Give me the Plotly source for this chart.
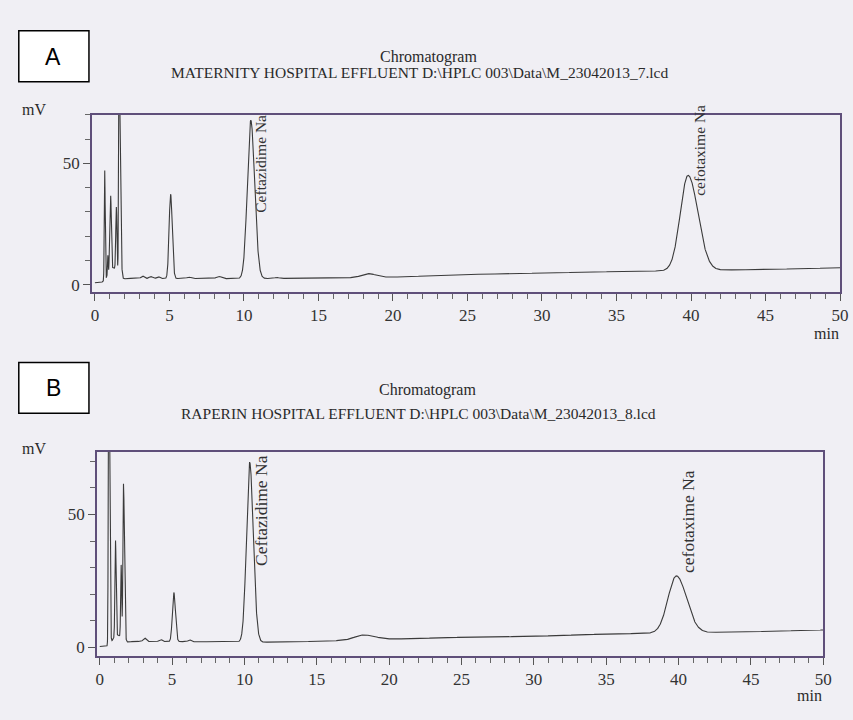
import numpy as np
import plotly.graph_objects as go

# ---------------- data ----------------
# Panel A (Maternity hospital effluent) peak table: retention time (min), height above baseline (mV), left/right width (min)
a_peak_time   = [0.66, 0.87, 0.97, 1.06, 1.20, 1.44, 1.62, 3.20, 3.75, 4.25, 5.08, 6.30, 8.30, 10.46, 12.2, 18.35, 39.80]
a_peak_height = [45.0, 8.0,  7.0,  30.4, 5.5,  26.3, 90.0, 1.0,  0.8,  0.8,  34.7, 0.6,  0.9,  65.2,  0.4,  1.6,   39.2]
a_sigma_left  = [0.03, 0.025,0.02, 0.04, 0.30, 0.04, 0.03, 0.10, 0.10, 0.10, 0.10, 0.12, 0.15, 0.23,  0.15, 0.45,  0.52]
a_sigma_right = [0.03, 0.025,0.02, 0.04, 0.30, 0.04, 0.08, 0.10, 0.10, 0.10, 0.11, 0.12, 0.15, 0.26,  0.15, 0.50,  0.66]
a_base_time   = [0.0, 0.55, 2.3, 10.0, 15.0, 20.0, 25.0, 35.0, 45.0, 50.0]
a_base_mv     = [0.8, 0.8,  2.6, 2.5,  2.7,  3.1,  4.2,  5.45, 6.3,  7.0]

# Panel B (Raperin hospital effluent)
b_peak_time   = [0.62, 1.09, 1.20, 1.48, 1.64, 3.10, 4.20, 5.12, 6.20, 10.36, 18.20, 39.85]
b_peak_height = [120., 36.0, 3.5,  27.4, 58.9, 1.3,  0.8,  18.5, 0.7,  67.7,  1.9,   21.5]
b_sigma_left  = [0.03, 0.04, 0.30, 0.035,0.04, 0.10, 0.10, 0.10, 0.10, 0.22,  0.60,  0.58]
b_sigma_right = [0.06, 0.04, 0.30, 0.035,0.065,0.10, 0.10, 0.11, 0.10, 0.25,  0.80,  0.70]
b_base_time   = [0.0, 0.5, 2.3, 12.0, 15.0, 25.0, 30.0, 35.0, 45.0, 50.0]
b_base_mv     = [0.3, 0.3, 2.2, 1.9,  2.25, 3.75, 4.1,  5.0,  5.8,  6.5]

x_ticks = [0, 5, 10, 15, 20, 25, 30, 35, 40, 45, 50]
y_ticks = [0, 50]
peak_labels = ["Ceftazidime Na", "cefotaxime Na"]
titles_a = ["Chromatogram", "MATERNITY HOSPITAL EFFLUENT D:\\HPLC 003\\Data\\M_23042013_7.lcd"]
titles_b = ["Chromatogram", "RAPERIN HOSPITAL EFFLUENT D:\\HPLC 003\\Data\\M_23042013_8.lcd"]

# ---------------- build the detector signal from the peak tables ----------------
t = np.linspace(0, 50, 10001)

def signal(pt, ph, sl, sr, bt, bm):
    y = np.interp(t, bt, bm)
    for t0, h, s1, s2 in zip(pt, ph, sl, sr):
        s = np.where(t < t0, s1, s2)
        y = y + h * np.exp(-0.5 * ((t - t0) / s) ** 2)
    return y

ya = signal(a_peak_time, a_peak_height, a_sigma_left, a_sigma_right, a_base_time, a_base_mv)
yb = signal(b_peak_time, b_peak_height, b_sigma_left, b_sigma_right, b_base_time, b_base_mv)

W, H = 853, 720
def px(x): return x / W
def py(y): return 1 - y / H

SERIF = "Liberation Serif"
FRAME = "#5f4f7a"
TRACE = "#3b3b3b"
BG = "#f0eff4"

fig = go.Figure()
fig.add_trace(go.Scatter(x=t, y=ya, mode="lines", line=dict(color=TRACE, width=1.1),
                         xaxis="x", yaxis="y", showlegend=False, hoverinfo="skip"))
fig.add_trace(go.Scatter(x=t, y=yb, mode="lines", line=dict(color=TRACE, width=1.1),
                         xaxis="x2", yaxis="y2", showlegend=False, hoverinfo="skip"))

def xaxis(domain, anchor):
    return dict(domain=domain, anchor=anchor, range=[-0.2, 50], tickvals=x_ticks,
                ticks="outside", ticklen=7, tickcolor="#555", tickwidth=1,
                minor=dict(dtick=1, tick0=0, ticks="outside", ticklen=5, tickcolor="#666", showgrid=False),
                showline=True, mirror=True, linecolor=FRAME, linewidth=1.5,
                showgrid=False, zeroline=False,
                tickfont=dict(family=SERIF, size=17, color="#333"))

def yaxis(domain, anchor, rng):
    return dict(domain=domain, anchor=anchor, range=rng, tickvals=y_ticks,
                ticks="outside", ticklen=7, tickcolor="#555", tickwidth=1,
                minor=dict(dtick=10, tick0=0, ticks="outside", ticklen=5, tickcolor="#666", showgrid=False),
                showline=True, mirror=True, linecolor=FRAME, linewidth=1.5,
                showgrid=False, zeroline=False,
                tickfont=dict(family=SERIF, size=17, color="#333"))

ann = []
def text(x, y, s, size=16, family=SERIF, color="#2a2a2a", xanchor="center"):
    ann.append(dict(x=px(x), y=py(y), xref="paper", yref="paper", text=s, showarrow=False,
                    xanchor=xanchor, yanchor="middle",
                    font=dict(family=family, size=size, color=color)))

# titles
text(433, 57, titles_a[0], 16)
text(423, 73, titles_a[1], 15.5)
text(432, 392, titles_b[0], 16)
text(422, 415, titles_b[1], 15.5)
# mV / min
text(33, 110, "mV", 16)
text(33, 450, "mV", 16)
text(850, 335, "min", 16, xanchor="right")
text(833, 698, "min", 16, xanchor="right")
# panel letters
text(53, 57, "A", 23, family="Liberation Sans", color="#000")
text(53, 390, "B", 23, family="Liberation Sans", color="#000")

# peak labels (rotated)
def peak_label(x, y, s, xr, yr, size):
    ann.append(dict(x=x, y=y, xref=xr, yref=yr, text=s, textangle=-90, showarrow=False,
                    xanchor="center", yanchor="middle",
                    font=dict(family=SERIF, size=size, color="#333")))

peak_label(11.14, 49.8, peak_labels[0], "x", "y", 15.5)
peak_label(40.56, 55.3, peak_labels[1], "x", "y", 15.5)
peak_label(11.1, 51.5, peak_labels[0], "x2", "y2", 17.5)
peak_label(40.64, 47.5, peak_labels[1], "x2", "y2", 17.5)

shapes = [
    dict(type="rect", xref="paper", yref="paper", x0=px(18), x1=px(89), y0=py(82), y1=py(31),
         line=dict(color="#000", width=1.5), fillcolor="#ffffff", layer="below"),
    dict(type="rect", xref="paper", yref="paper", x0=px(18), x1=px(89), y0=py(415), y1=py(364),
         line=dict(color="#000", width=1.5), fillcolor="#ffffff", layer="below"),
]

fig.update_layout(
    width=W, height=H, margin=dict(l=0, r=0, t=0, b=0),
    paper_bgcolor=BG, plot_bgcolor=BG, showlegend=False,
    xaxis=xaxis([px(92), px(849)], "y"),
    yaxis=yaxis([py(293), py(115)], "x", [-2.9, 70.1]),
    xaxis2=xaxis([px(97), px(832)], "y2"),
    yaxis2=yaxis([py(659), py(454)], "x2", [-3.4, 73.5]),
    annotations=ann, shapes=shapes,
)

fig.write_html("out.html", config={"displayModeBar": False},
               post_script="document.body.style.margin='0';document.body.style.padding='0';")
